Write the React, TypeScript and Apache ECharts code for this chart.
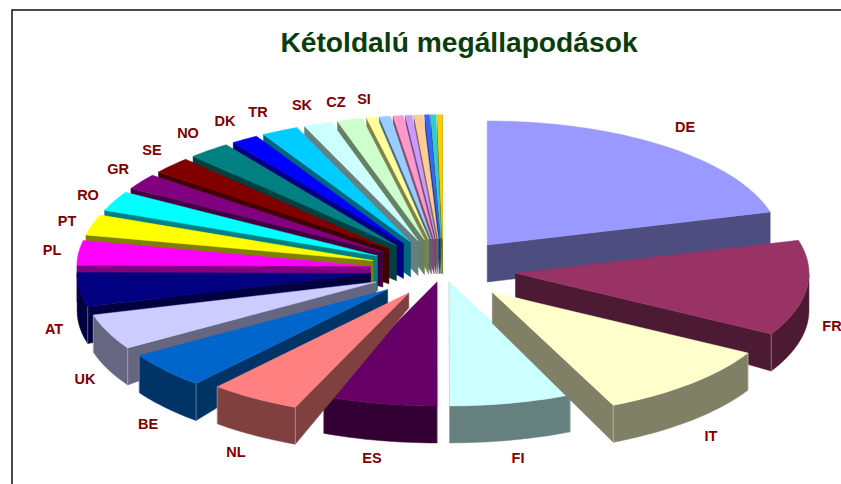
import React, { useEffect, useRef } from "react";
import * as echarts from "echarts";

const countries = ["DE","FR","IT","FI","ES","NL","BE","UK","AT","PL","PT","RO","GR","SE","NO","DK","TR","SK","CZ","SI","","","","","","",""];
const shares = [20.72,12.44,10.08,6.75,6.33,5.0,4.75,4.64,4.42,3.19,2.67,2.58,2.06,2.19,2.33,1.5,2.03,1.53,1.39,0.56,0.61,0.56,0.36,0.5,0.25,0.28,0.28];
const colors = ["#9999FF","#993366","#FFFFCC","#CCFFFF","#660066","#FF8080","#0066CC","#CCCCFF","#000080","#FF00FF","#FFFF00","#00FFFF","#800080","#800000","#008080","#0000FF","#00CCFF","#CCFFFF","#CCFFCC","#FFFF99","#99CCFF","#FF99CC","#CC99FF","#FFCC99","#3366FF","#33CCCC","#FFCC00"];
const explosion = [73,73,73,30,30,65,73,73,73,73,73,73,73,73,73,73,73,73,73,73,73,73,73,73,73,73,73];
const hubWall = [37,24,31,20,20,15,14,12,20,20,35,35,35,35,35,35,35,35,35,35,35,35,35,35,35,35,35];
const labelCentres: [number, number][] = [[685,127],[832,326],[711,436],[518,458],[372,458],[236,452],[148,424],[85,379],[54,329],[52,250],[67,221],[88,195],[118,169],[152,150],[188,133],[225,121],[258,112],[302,105],[336,102],[364,99]];

const W = 841, H = 484;
const CX = 443, CY = 269.5, RX = 293.5, RY = 124, YS = RY / RX, DEPTH = 37;
const rad = (d: number) => (d * Math.PI) / 180;
const total = shares.reduce((a, b) => a + b, 0);

function halve(c: string) {
  const n = parseInt(c.slice(1), 16);
  const f = (v: number) => Math.round(v / 2).toString(16).padStart(2, "0");
  return "#" + f((n >> 16) & 255) + f((n >> 8) & 255) + f(n & 255);
}

let acc = 0;
const slices = shares.map((v, i) => {
  const a0 = acc; acc += (v / total) * 360; const a1 = acc; const m = (a0 + a1) / 2;
  const ax = CX + explosion[i] * Math.sin(rad(m));
  const ay = CY - explosion[i] * YS * Math.cos(rad(m));
  return { i, a0, a1, ax, ay };
});
const paintOrder = [...slices].sort((p, q) => p.ay - q.ay).map((s) => s.i);

function renderSlice(params: any) {
  const s = slices[paintOrder[params.dataIndex]];
  const i = s.i;
  const fill = colors[i], wall = halve(fill);
  const at = (deg: number) => [s.ax + RX * Math.sin(rad(deg)), s.ay - RY * Math.cos(rad(deg))];
  const arc = (from: number, to: number) => {
    const n = Math.max(2, Math.ceil(Math.abs(to - from) / 1.5));
    const out: number[][] = [];
    for (let k = 0; k <= n; k++) out.push(at(from + ((to - from) * k) / n));
    return out;
  };
  const down = (p: number[], d = DEPTH) => [p[0], p[1] + d];
  const hub = [s.ax, s.ay];
  const children: any[] = [];
  const poly = (points: number[][], color: string) =>
    children.push({ type: "polygon", shape: { points }, style: { fill: color, stroke: color, lineWidth: 0.5 } });
  const edgeWall = (deg: number) => {
    const o = at(deg);
    poly([hub, o, down(o), down(hub, hubWall[i])], wall);
  };
  if (s.a0 > 180) edgeWall(s.a0);
  if (s.a1 < 180 || s.a1 > 359.9) edgeWall(s.a1);
  const lo = Math.max(s.a0, 90), hi = Math.min(s.a1, 270);
  if (hi > lo) {
    const top = arc(lo, hi);
    poly([...top, ...top.slice().reverse().map((p) => down(p))], wall);
    [s.a0, s.a1].forEach((d) => {
      if (d > 90 && d < 270 && d !== 180) {
        const o = at(d);
        children.push({ type: "line", shape: { x1: o[0], y1: o[1], x2: o[0], y2: o[1] + DEPTH }, style: { stroke: "rgba(255,255,255,0.35)", lineWidth: 1 } });
      }
    });
  }
  poly([hub, ...arc(s.a0, s.a1)], fill);
  return { type: "group", children };
}

function renderLabel(params: any) {
  const c = labelCentres[params.dataIndex];
  return {
    type: "text", x: c[0], y: c[1],
    style: { text: countries[params.dataIndex], fill: "#800000", font: 'bold 14.5px "Liberation Sans", Arial, sans-serif', align: "center", verticalAlign: "middle" },
  };
}

export default function App() {
  const ref = useRef<HTMLDivElement>(null);
  useEffect(() => {
    const chart = echarts.init(ref.current!, undefined, { renderer: "svg" });
    chart.setOption({
      animation: false,
      backgroundColor: "#ffffff",
      title: {
        text: "Kétoldalú megállapodások", left: 454, top: 23, textAlign: "center",
        textStyle: { color: "#0B3D0B", fontSize: 28.2, fontWeight: "bold", fontFamily: '"Liberation Sans", Arial, sans-serif' },
      },
      graphic: [{ type: "rect", z: -1, shape: { x: 12, y: 10, width: 1000, height: 600 }, style: { fill: "#fff", stroke: "#111", lineWidth: 1.5 } }],
      series: [
        { type: "custom", coordinateSystem: "none", silent: true, renderItem: renderSlice, data: paintOrder.map((i) => ({ name: countries[i] || "other", value: shares[i] })) },
        { type: "custom", coordinateSystem: "none", silent: true, z: 5, renderItem: renderLabel, data: labelCentres.map((_, i) => ({ name: countries[i], value: shares[i] })) },
      ],
    });
    return () => chart.dispose();
  }, []);
  return <div ref={ref} style={{ position: "fixed", left: 0, top: 0, width: W, height: H }} />;
}
